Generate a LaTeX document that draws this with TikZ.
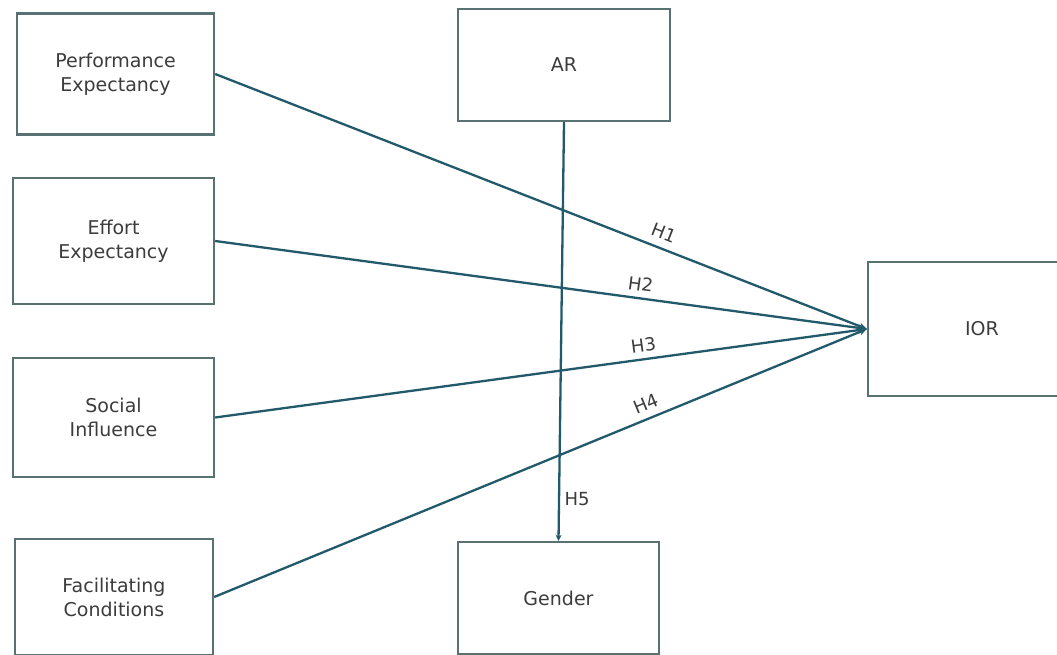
\documentclass[tikz,border=0pt]{standalone}
\usepackage{fontspec}
\setmainfont{DejaVu Sans}
\usetikzlibrary{arrows.meta}
\definecolor{linkteal}{RGB}{34, 90, 108}
\definecolor{boxgray}{RGB}{88, 114, 114}
\definecolor{txtgray}{RGB}{60, 60, 60}

\begin{document}
\begin{tikzpicture}[x=1pt, y=-1pt,
        box/.style={draw=boxgray, line width=2.3pt, fill=white, align=center, text=txtgray,
          font=\fontsize{19}{24}\selectfont, inner sep=0pt},
        arr/.style={-{Stealth[length=8pt, width=7pt]}, line width=2.3pt, linkteal},
        hyp/.style={text=txtgray, font=\fontsize{18}{20}\selectfont}
      ]
        \path[use as bounding box, fill=white] (0,0) rectangle (1057,655);
        \clip (0,0) rectangle (1057,655);
        % constructs on the left
        \node[box, minimum width=197pt, minimum height=121pt] (pe) at (115.5,74) {Performance\\Expectancy};
        \node[box, minimum width=201pt, minimum height=126pt] (ee) at (113.5,241) {Effort\\Expectancy};
        \node[box, minimum width=201pt, minimum height=119pt] (si) at (113.5,417.5) {Social\\Influence};
        \node[box, minimum width=198pt, minimum height=116pt] (fc) at (114,597) {Facilitating\\Conditions};
        % moderators and outcome
        \node[box, minimum width=212pt, minimum height=112pt] (ar) at (564,65) {AR};
        \node[box, minimum width=201pt, minimum height=112pt] (gender) at (558.5,598) {Gender};
        \node[box, minimum width=228pt, minimum height=134pt] (ior) at (982,329) {IOR};
        \draw[arr] (pe.east) -- node[hyp, pos=0.68, sloped, above=4pt] {H1} (ior.west);
        \draw[arr] (ee.east) -- node[hyp, pos=0.65, sloped, above=3pt] {H2} (ior.west);
        \draw[arr] (si.east) -- node[hyp, pos=0.66, sloped, above=3pt] {H3} (ior.west);
        \draw[arr] (fc.east) -- node[hyp, pos=0.67, sloped, above=4pt] {H4} (ior.west);
        \draw[arr, -{Stealth[length=6pt, width=6pt]}] (ar.south) -- node[hyp, pos=0.9, right=1pt] {H5} (gender.north);
      \end{tikzpicture}
\end{document}
